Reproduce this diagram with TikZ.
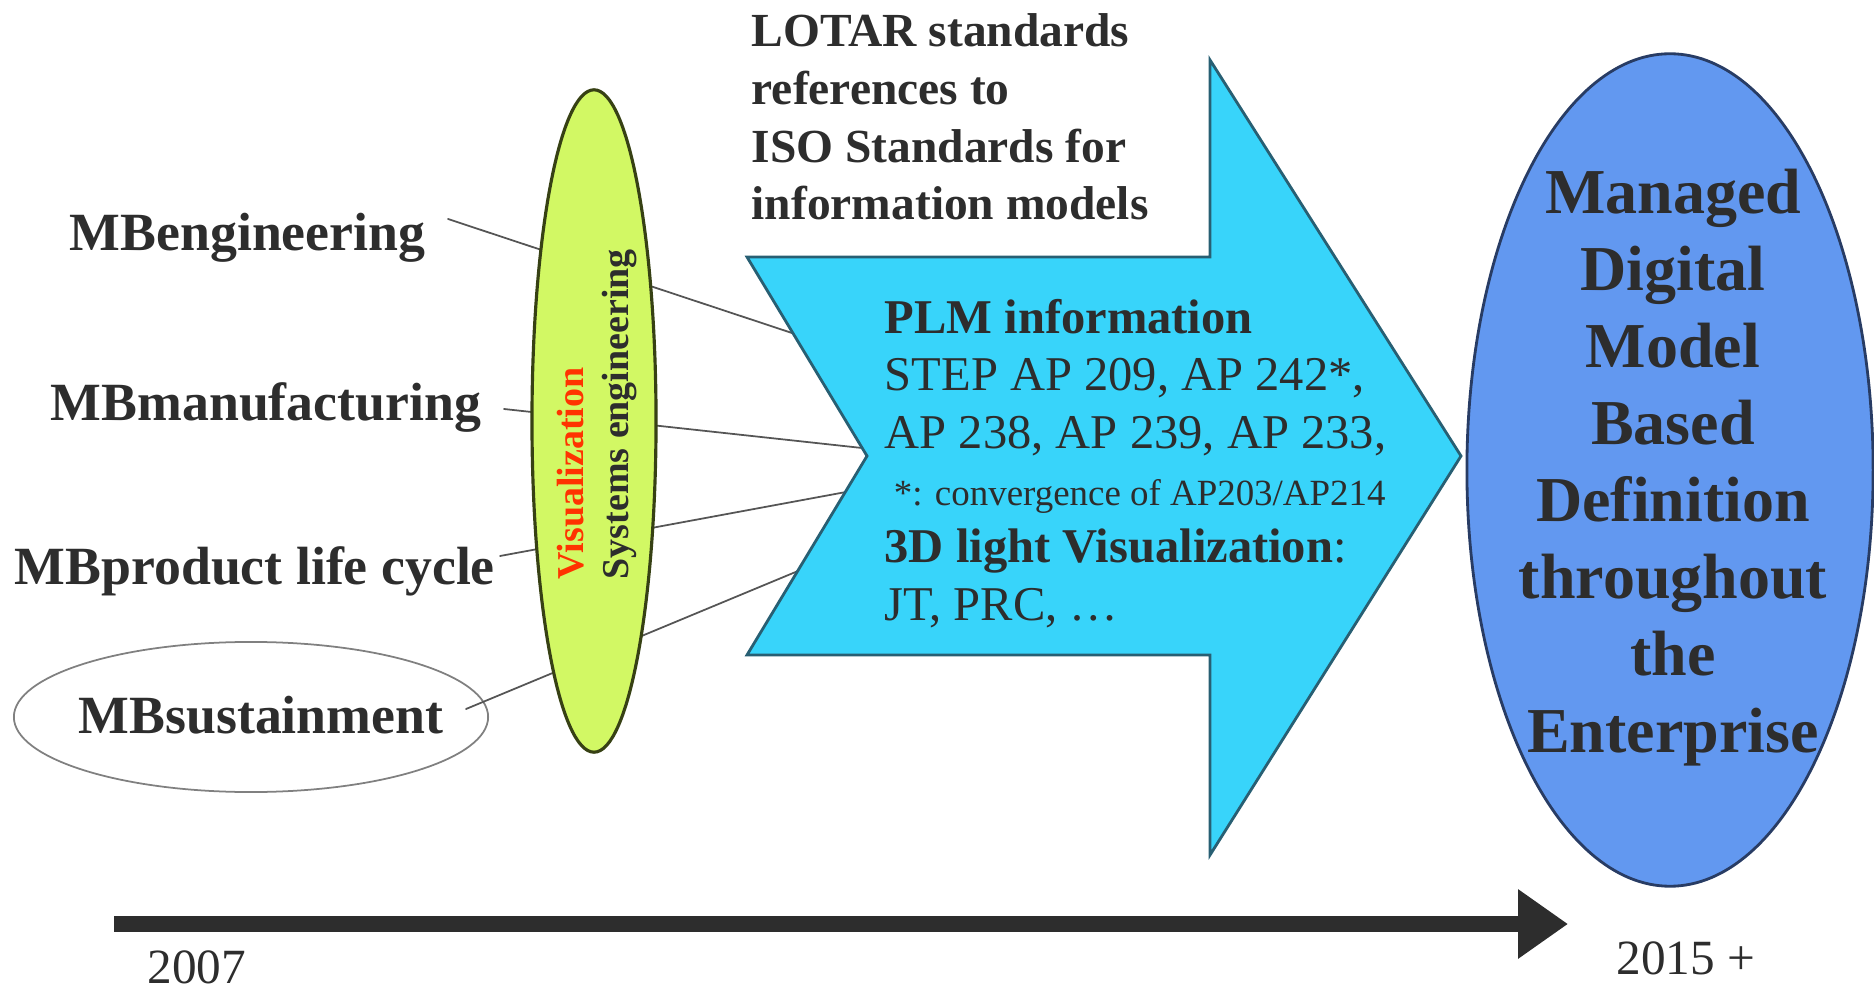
\documentclass[tikz,border=0pt]{standalone}
\usepackage{fontspec}
\setmainfont{Liberation Serif}
\usepackage{tkz-euclide}
\usetikzlibrary{shapes.geometric,arrows.meta}

\definecolor{inkgray}{RGB}{45,45,45}
\definecolor{linegray}{RGB}{85,85,85}
\definecolor{limefill}{RGB}{210,248,100}
\definecolor{limeedge}{RGB}{55,65,20}
\definecolor{plmcyan}{RGB}{56,212,250}
\definecolor{plmedge}{RGB}{40,95,115}
\definecolor{mbdblue}{RGB}{98,152,240}
\definecolor{mbdedge}{RGB}{40,60,100}
\definecolor{visred}{RGB}{255,51,0}

\tikzset{
  mblabel/.style={anchor=base west, inner sep=0pt, text=inkgray,
    font=\fontsize{15.3}{18}\selectfont\bfseries},
  ring/.style={ellipse, draw=gray, line width=0.5pt, inner sep=0pt,
    minimum width=4.74cm, minimum height=1.5cm},
  lime/.style={ellipse, draw=limeedge, fill=limefill, line width=0.9pt,
    inner sep=0pt, minimum width=1.24cm, minimum height=6.62cm},
  plmarrow/.style={draw=plmedge, fill=plmcyan, line width=0.8pt, line join=miter},
  goal/.style={ellipse, draw=mbdedge, fill=mbdblue, line width=0.8pt,
    inner sep=0pt, minimum width=4.06cm, minimum height=8.32cm},
  goaltext/.style={align=center, inner sep=0pt, text=inkgray,
    font=\fontsize{18.2}{21.9}\selectfont\bfseries},
  timeline/.style={draw=inkgray, line width=4.6pt,
    -{Triangle[length=14.2pt, width=18.8pt]}},
  year/.style={anchor=base west, inner sep=0pt, text=inkgray,
    font=\fontsize{14}{16}\selectfont}
}

\begin{document}
\begin{tikzpicture}[x=0.01cm, y=-0.01cm]
  \useasboundingbox (0,0) rectangle (1874,989);

  \tkzDefPoints{448/219/E1, 795/334/E2, 504/409/M1, 862/448/M2,
    500/556/P1, 846/492/P2, 466/709/S1, 798/571/S2}

  \foreach \name/\txt/\px/\py in {eng/MBengineering/69/251,
    man/MBmanufacturing/50/421, prod/MBproduct life cycle/14/584,
    sust/MBsustainment/78/733}{
    \node[mblabel] (\name) at (\px,\py) {\txt};
  }
  \node[ring] (sustring) at (251,717) {};

  \tkzDrawSegments[linegray, line width=0.5pt](E1,E2 M1,M2 P1,P2 S1,S2)

  \node[lime] (sys) at (594,421) {};
  \node[rotate=90, anchor=west, align=left, inner sep=0pt, text=inkgray,
    font=\fontsize{10.8}{12.8}\selectfont\bfseries] (systxt) at (597,580)
    {\textcolor{visred}{Visualization}\\Systems engineering};

  \draw[plmarrow] (747,257) -- (1210,257) -- (1210,60) -- (1461,456)
    -- (1210,855) -- (1210,655) -- (747,655) -- (867,456) -- cycle;

  \node[anchor=base west, align=left, inner sep=0pt, text=inkgray,
    font=\fontsize{13.5}{16.4}\selectfont\bfseries] (lotar) at (751,220)
    {LOTAR standards\\references to\\ISO Standards for\\information models};
  \node[anchor=base west, align=left, inner sep=0pt, text=inkgray,
    font=\fontsize{13.8}{16.3}\selectfont] (plm) at (884,620)
    {\textbf{PLM information}\\STEP AP 209, AP 242*,\\AP 238, AP 239, AP 233,\\
     {\fontsize{10.5}{16.3}\selectfont\ *: convergence of AP203/AP214}\\
     \textbf{3D light Visualization}:\\JT, PRC, …};

  \node[goal] (mbd) at (1670,470) {};
  \node[goaltext] (mbdtxt) at (1673,468)
    {Managed\\Digital\\Model\\Based\\Definition\\throughout\\the\\Enterprise};

  % time axis
  \coordinate (t0) at (114,924);
  \coordinate (t1) at (1568,924);
  \draw[timeline] (t0) -- (t1);
  \node[year] (y0) at (147,983) {2007};
  \node[year] (y1) at (1616,974) {2015 +};
\end{tikzpicture}
\end{document}
